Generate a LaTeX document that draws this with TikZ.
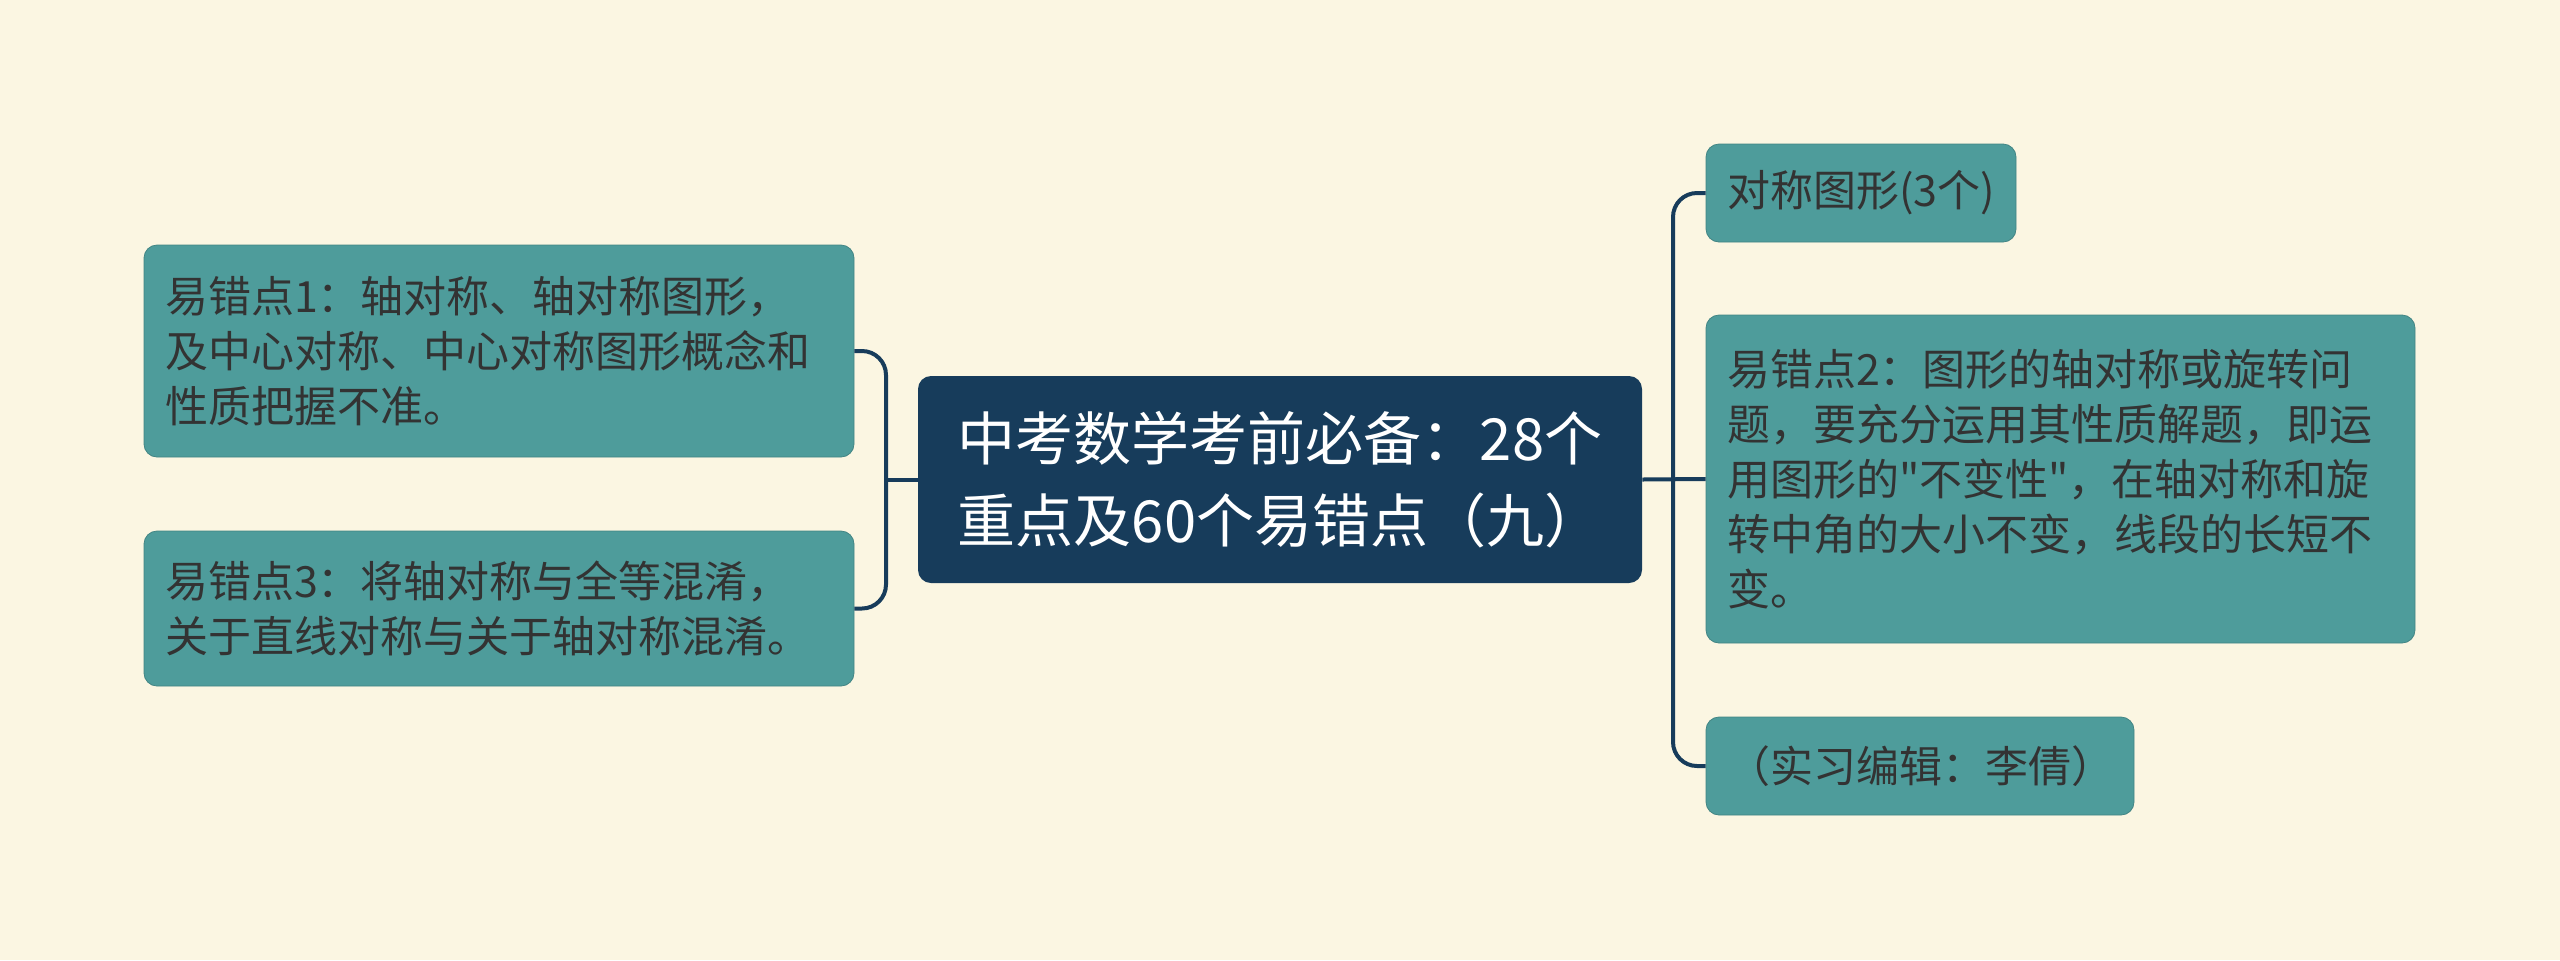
\documentclass[tikz,border=0pt]{standalone}
\usepackage{fontspec}
\setmainfont{Noto Sans CJK SC}
\newfontfamily\cjk{Noto Sans CJK SC}
\definecolor{bg}{HTML}{FBF6E2}
\definecolor{teal}{HTML}{4E9C9B}
\definecolor{navy}{HTML}{173C5B}
\definecolor{ink}{HTML}{333333}
\tikzset{
  leaf/.style={fill=teal, draw=teal!85!black, line width=0.4pt, rounded corners=6.5pt, inner xsep=10.5pt, inner ysep=0pt, align=left, text=ink, font=\cjk\fontsize{21.5pt}{27.5pt}\selectfont},
  root/.style={fill=navy, rounded corners=6.5pt, inner xsep=0pt, inner ysep=0pt, align=left, text=white, font=\cjk\fontsize{29pt}{41pt}\selectfont},
  conn/.style={draw=navy, line width=2pt}
}
\begin{document}
\begin{tikzpicture}[x=0.5pt,y=-0.5pt]
\path[fill=bg] (0,0) rectangle (2560,960);
\useasboundingbox (0,0) rectangle (2560,960);
% root
\node[root, minimum width=362pt, minimum height=103.5pt] (c) at (1280,479.5) {中考数学考前必备：28个\\重点及60个易错点（九）};
% left
\node[leaf, text width=334pt, minimum height=106pt] (l1) at (499,351) {易错点1：轴对称、轴对称图形，\\及中心对称、中心对称图形概念和\\性质把握不准。};
\node[leaf, text width=334pt, minimum height=77.5pt] (l2) at (499,608.5) {易错点3：将轴对称与全等混淆，\\关于直线对称与关于轴对称混淆。};
% right
\node[leaf, text width=134pt, minimum height=49pt] (r1) at (1861,193) {对称图形(3个)};
\node[leaf, text width=333.5pt, minimum height=164pt] (r2) at (2060.5,479) {易错点2：图形的轴对称或旋转问\\题，要充分运用其性质解题，即运\\用图形的"不变性"，在轴对称和旋\\转中角的大小不变，线段的长短不\\变。};
\node[leaf, text width=193pt, minimum height=49pt] (r3) at (1920,766) {（实习编辑：李倩）};
% junctions
\coordinate (lj) at (886,479.5);
\coordinate (rj) at (1673,479.5);
\draw[conn] (c.west) -- (lj);
\draw[conn, rounded corners=12pt] (l1.east) -| (lj) |- (l2.east);
\draw[conn] (c.east) -- (r2.west);
\draw[conn, rounded corners=12pt] (r1.west) -| (rj) |- (r3.west);
\end{tikzpicture}
\end{document}
